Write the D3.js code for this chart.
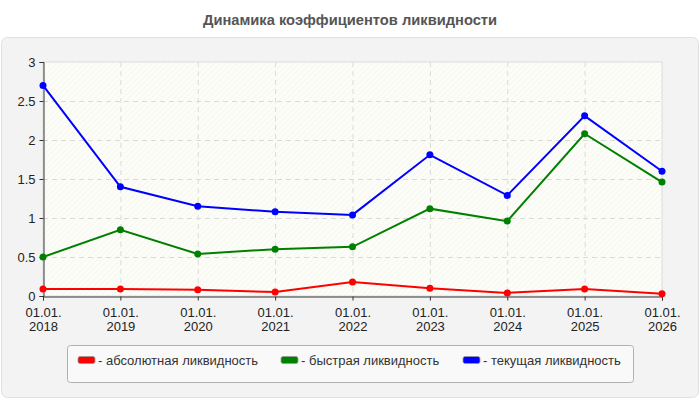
<!DOCTYPE html>
<html>
<head>
<meta charset="utf-8">
<script src="https://cdn.jsdelivr.net/npm/d3@7"></script>
<style>
  body { margin: 0; background: #fff; font-family: Arial, "Liberation Sans", sans-serif; }
</style>
</head>
<body>
<svg id="chart" width="700" height="400"></svg>
<script>
const years = ["2018", "2019", "2020", "2021", "2022", "2023", "2024", "2025", "2026"];
const absolute = [0.09, 0.09, 0.08, 0.05, 0.18, 0.10, 0.04, 0.09, 0.03];
const quick = [0.50, 0.85, 0.54, 0.60, 0.63, 1.12, 0.96, 2.08, 1.46];
const current = [2.70, 1.40, 1.15, 1.08, 1.04, 1.81, 1.29, 2.31, 1.60];
const yTicks = [0, 0.5, 1, 1.5, 2, 2.5, 3];
const seriesNames = ["абсолютная ликвидность", "быстрая ликвидность", "текущая ликвидность"];
const seriesColors = ["#ff0000", "#008000", "#0000ff"];

const svg = d3.select("#chart");
const font = "Arial, 'Liberation Sans', sans-serif";

// title
svg.append("text")
  .attr("x", 350).attr("y", 25)
  .attr("text-anchor", "middle")
  .style("font-size", "14.7px")
  .style("font-weight", "bold")
  .style("fill", "#555")
  .text("Динамика коэффициентов ликвидности");

// outer panel
svg.append("rect")
  .attr("x", 1.5).attr("y", 37.5)
  .attr("width", 697).attr("height", 360)
  .attr("rx", 6)
  .attr("fill", "#f3f3f3")
  .attr("stroke", "#e0e0e0");

const plotLeft = 43, plotRight = 662, plotTop = 62, plotBottom = 296;

const x = d3.scalePoint().domain(years).range([plotLeft, plotRight]);
const y = d3.scaleLinear().domain([0, 3]).range([plotBottom, plotTop]);

// hatch pattern for plot background
const defs = svg.append("defs");
const pat = defs.append("pattern")
  .attr("id", "hatch")
  .attr("patternUnits", "userSpaceOnUse")
  .attr("width", 4).attr("height", 4)
  .attr("patternTransform", "rotate(45)");
pat.append("rect").attr("width", 4).attr("height", 4).attr("fill", "#fdfdf8");
pat.append("line").attr("x1", 0).attr("y1", 0).attr("x2", 0).attr("y2", 4)
  .attr("stroke", "#f0f0ec").attr("stroke-width", 1);

svg.append("rect")
  .attr("x", plotLeft).attr("y", plotTop)
  .attr("width", plotRight - plotLeft).attr("height", plotBottom - plotTop)
  .attr("fill", "url(#hatch)")
  .attr("stroke", "#dcdcdc");

// grid
svg.append("g")
  .selectAll("line")
  .data(yTicks.filter(d => d > 0 && d < 3))
  .join("line")
  .attr("x1", plotLeft).attr("x2", plotRight)
  .attr("y1", d => y(d) + 0.5).attr("y2", d => y(d) + 0.5)
  .attr("stroke", "#dadada")
  .attr("stroke-dasharray", "5,4");

svg.append("g")
  .selectAll("line")
  .data(years.slice(1, -1))
  .join("line")
  .attr("x1", d => x(d) + 0.5).attr("x2", d => x(d) + 0.5)
  .attr("y1", plotTop).attr("y2", plotBottom)
  .attr("stroke", "#dadada")
  .attr("stroke-dasharray", "5,4");

// axes
const yAxis = svg.append("g")
  .attr("transform", `translate(${plotLeft + 0.5},0)`)
  .call(d3.axisLeft(y).tickValues(yTicks).tickSize(4).tickFormat(d3.format("")));
const xAxis = svg.append("g")
  .attr("transform", `translate(0,${plotBottom + 0.5})`)
  .call(d3.axisBottom(x).tickSize(4).tickFormat(""));

[yAxis, xAxis].forEach(a => {
  a.select(".domain").attr("stroke", "#333");
  a.selectAll(".tick line").attr("stroke", "#333");
  a.selectAll("text").style("font-size", "13px").style("fill", "#222")
    .style("font-family", font);
});
yAxis.selectAll("text").attr("x", -8);

xAxis.selectAll(".tick").each(function (d) {
  const t = d3.select(this).append("text")
    .attr("text-anchor", "middle")
    .style("font-size", "13px")
    .style("fill", "#222")
    .style("font-family", font);
  t.append("tspan").attr("x", 0).attr("y", 20).text("01.01.");
  t.append("tspan").attr("x", 0).attr("y", 34).text(d);
});

// lines
const allSeries = [absolute, quick, current];
const line = d3.line().x((d, i) => x(years[i])).y(d => y(d));

allSeries.forEach((vals, k) => {
  svg.append("path")
    .datum(vals)
    .attr("d", line)
    .attr("fill", "none")
    .attr("stroke", seriesColors[k])
    .attr("stroke-width", 2);
  svg.append("g")
    .selectAll("circle")
    .data(vals)
    .join("circle")
    .attr("cx", (d, i) => x(years[i]))
    .attr("cy", d => y(d))
    .attr("r", 3.5)
    .attr("fill", seriesColors[k]);
});

// legend
svg.append("rect")
  .attr("x", 67.5).attr("y", 345.5)
  .attr("width", 566).attr("height", 37)
  .attr("rx", 3)
  .attr("fill", "#f9f9f9")
  .attr("stroke", "#b0b0b0");

const legendX = [78, 281, 463];
seriesNames.forEach((name, k) => {
  const g = svg.append("g").attr("transform", `translate(${legendX[k]},360)`);
  g.append("rect")
    .attr("x", 0).attr("y", -3.5)
    .attr("width", 17).attr("height", 7)
    .attr("rx", 2)
    .attr("fill", seriesColors[k])
    .attr("stroke", "#999")
    .attr("stroke-width", 0.8);
  g.append("text")
    .attr("x", 20).attr("y", 4.5)
    .style("font-size", "13px")
    .style("fill", "#333")
    .style("font-family", font)
    .text("- " + name);
});
</script>
</body>
</html>
